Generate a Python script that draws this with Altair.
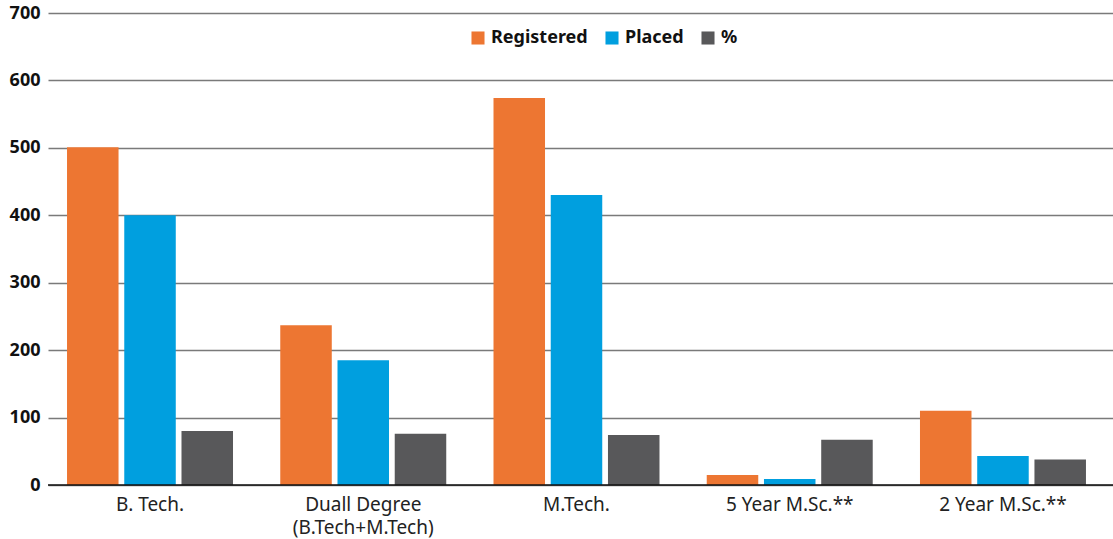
import altair as alt
import pandas as pd

categories = ["B. Tech.", "Duall Degree|(B.Tech+M.Tech)", "M.Tech.", "5 Year M.Sc.**", "2 Year M.Sc.**"]
series = ["Registered", "Placed", "%"]
registered = [501, 237, 574, 15, 110]
placed = [400, 185, 430, 9, 43]
percent = [80, 76, 74, 67, 38]
colors = ["#ED7632", "#009FDF", "#58585A"]

rows = []
for i, c in enumerate(categories):
    for s, vals in zip(series, [registered, placed, percent]):
        rows.append({"Program": c, "Series": s, "Value": vals[i]})
df = pd.DataFrame(rows)

FONT = "Noto Sans"

bars = alt.Chart(df).mark_bar().encode(
    x=alt.X("Program:N", sort=categories,
            scale=alt.Scale(paddingInner=0.2216, paddingOuter=0.108, align=0.413),
            axis=alt.Axis(title=None, labelExpr="split(datum.label, '|')",
                          labelAngle=0, labelFontSize=19, labelFont=FONT,
                          labelColor="#222222", ticks=False, domain=False,
                          labelPadding=10, labelLineHeight=23)),
    xOffset=alt.XOffset("Series:N", sort=series, scale=alt.Scale(paddingInner=0.1)),
    y=alt.Y("Value:Q", scale=alt.Scale(domain=[0, 700], nice=False),
            axis=alt.Axis(title=None, values=[0, 100, 200, 300, 400, 500, 600, 700],
                          labelFontSize=18, labelFont=FONT, labelFontWeight="bold",
                          labelColor="#111111", ticks=False, domain=False,
                          labelPadding=8, gridColor="#7a7a7a", gridWidth=1.5)),
    color=alt.Color("Series:N", sort=series,
                    scale=alt.Scale(domain=series, range=colors),
                    legend=alt.Legend(title=None, orient="none", direction="horizontal",
                                      legendX=421, legendY=16, symbolType="square",
                                      symbolSize=170, symbolStrokeWidth=0,
                                      labelFontSize=18, labelFont=FONT,
                                      labelFontWeight="bold", labelColor="#111111",
                                      columnPadding=15, symbolOffset=0, labelOffset=4)),
)

zero = alt.Chart(pd.DataFrame({"y": [0]})).mark_rule(color="#111111", strokeWidth=1.5).encode(
    y="y:Q"
)

chart = (bars + zero).properties(
    width=1065, height=472,
    autosize=alt.AutoSizeParams(type="none"),
    padding={"left": 48, "top": 13, "right": 0, "bottom": 54},
).configure_view(stroke=None).configure_axis(grid=True).configure_axisX(grid=False)

chart.save("out.html", embed_options={"renderer": "svg", "actions": False})
